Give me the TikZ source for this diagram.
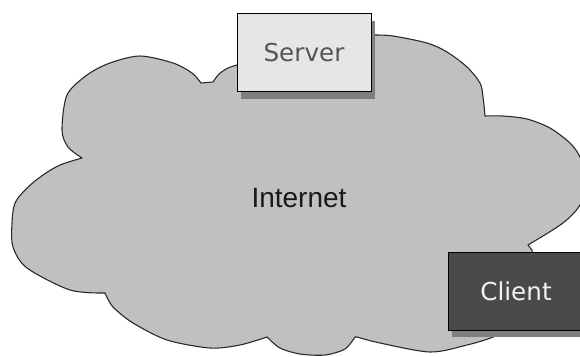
\documentclass[tikz,border=0pt]{standalone}
\usepackage{fontspec}
\setmainfont{DejaVu Sans}
\newfontfamily\arialfont{Liberation Sans}
\usetikzlibrary{shadows}
\definecolor{cloudfill}{HTML}{C0C0C0}
\definecolor{srvfill}{HTML}{E6E6E6}
\definecolor{srvtext}{HTML}{555555}
\definecolor{clifill}{HTML}{4A4A4A}
\definecolor{clitext}{HTML}{F2F2F2}
\definecolor{shdw}{HTML}{7F7F7F}
\tikzset{
  boxshadow/.style={general shadow={fill=shdw, shadow xshift=3.2pt, shadow yshift=-5pt}},
  hostbox/.style={draw=black, line width=0.75pt, minimum width=100.5pt, minimum height=58.5pt,
    inner sep=0pt, font=\fontsize{18.5}{22}\selectfont, boxshadow},
  cloudshape/.style={draw=black!85, line width=0.8pt, fill=cloudfill, line join=round},
}
\begin{document}
\begin{tikzpicture}[x=0.75pt,y=-0.75pt]
\useasboundingbox (0,0) rectangle (580,356);
\fill[white] (0,0) rectangle (580,356);
% cloud
\path[cloudshape]
  plot[smooth] coordinates {(201,83) (192,73) (173,63) (140,56) (110,63) (87,75) (67,95) (62,130) (68,147) (82,158)}
  -- plot[smooth] coordinates {(82,158) (60,165) (43,175) (27,188) (15,203) (12,223) (13,247) (27,268) (70,290) (105,293)}
  -- plot[smooth] coordinates {(105,293) (113,307) (133,323) (167,340) (210,348) (240,345) (267,337)}
  -- plot[smooth] coordinates {(267,337) (280,348) (300,354) (325,355) (345,349) (355,337)}
  -- plot[smooth] coordinates {(357,337) (380,343) (430,352) (467,345) (493,337) (515,325)}
  -- (535,270) -- (532,250) -- (528,245)
  -- plot[smooth] coordinates {(533,242) (563,223) (580,205) (588,180) (580,157) (570,143) (550,128) (527,119) (503,116) (485,116)}
  -- plot[smooth] coordinates {(485,116) (483,97) (480,83) (467,67) (447,52) (427,43) (393,36) (375,35)}
  -- (300,45) -- (237,65)
  -- plot[smooth] coordinates {(237,65) (228,68) (219,74) (213,82)}
  -- cycle;
% boxes
\node[hostbox, fill=srvfill, text=srvtext] (server) at (304,53) {Server};
\node[hostbox, fill=clifill, text=clitext, minimum width=102pt] (client) at (516,291) {Client};
% label
\node[font=\arialfont\fontsize{21}{24}\selectfont, text=black!90, anchor=base, inner sep=0pt] (internet) at (299,207) {Internet};
\end{tikzpicture}
\end{document}
